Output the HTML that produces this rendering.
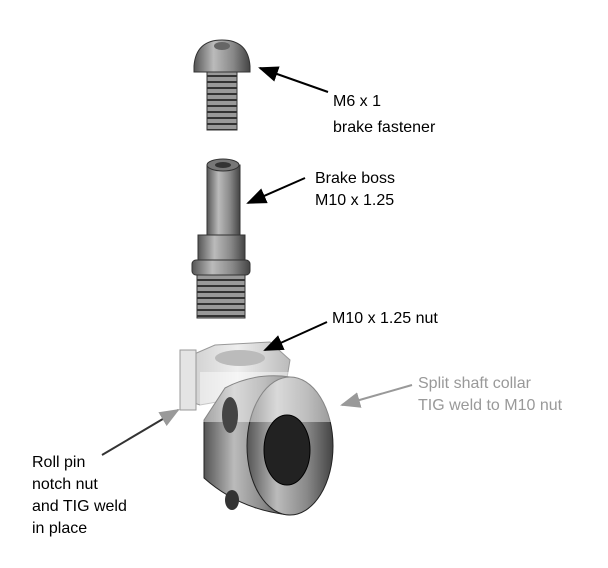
<!DOCTYPE html><html><head><style>body{margin:0;background:#fff}svg{display:block}text{font-family:"Liberation Sans",Arial,sans-serif;font-size:16px}</style></head><body>
<svg width="608" height="568" viewBox="0 0 608 568">
<defs>
<linearGradient id="g" x1="0" x2="1"><stop offset="0" stop-color="#555"/><stop offset=".35" stop-color="#bbb"/><stop offset=".7" stop-color="#888"/><stop offset="1" stop-color="#444"/></linearGradient>
<linearGradient id="gl" x1="0" x2="1"><stop offset="0" stop-color="#ccc"/><stop offset=".5" stop-color="#eee"/><stop offset="1" stop-color="#bbb"/></linearGradient>
<pattern id="th" width="10" height="6" patternUnits="userSpaceOnUse"><rect width="10" height="6" fill="#999"/><rect y="3" width="10" height="2" fill="#333"/></pattern>
<marker id="a" markerWidth="10" markerHeight="8" refX="9" refY="4" orient="auto"><path d="M0,0L10,4L0,8z" fill="#000"/></marker>
<marker id="ag" markerWidth="10" markerHeight="8" refX="9" refY="4" orient="auto"><path d="M0,0L10,4L0,8z" fill="#999"/></marker>
</defs>
<rect x="207" y="72" width="30" height="58" fill="url(#th)" stroke="#333"/>
<path d="M194,66 Q196,40 222,40 Q248,40 250,66 L250,72 L194,72Z" fill="url(#g)" stroke="#333"/>
<ellipse cx="222" cy="46" rx="8" ry="4" fill="#666"/>
<rect x="207" y="165" width="33" height="75" fill="url(#g)" stroke="#333"/>
<ellipse cx="223" cy="165" rx="16" ry="6" fill="#777" stroke="#333"/>
<ellipse cx="223" cy="165" rx="8" ry="3" fill="#333"/>
<rect x="198" y="235" width="47" height="28" fill="url(#g)" stroke="#333"/>
<rect x="192" y="260" width="58" height="15" rx="4" fill="url(#g)" stroke="#333"/>
<rect x="197" y="275" width="48" height="43" fill="url(#th)" stroke="#333"/>
<path d="M185,358 L215,345 L270,342 L290,360 L285,390 L200,405 L185,400Z" fill="url(#gl)" stroke="#999"/>
<rect x="180" y="350" width="16" height="60" fill="#e4e4e4" stroke="#999"/>
<ellipse cx="240" cy="358" rx="25" ry="8" fill="#bbb"/>
<path d="M225,388 Q255,372 290,377 L290,515 Q240,510 204,478 L204,420 Z" fill="url(#g)" stroke="#222"/>
<ellipse cx="290" cy="446" rx="43" ry="69" fill="url(#g)" stroke="#222"/>
<rect x="200" y="372" width="135" height="50" fill="#fff" opacity=".45"/>
<ellipse cx="287" cy="450" rx="23" ry="35" fill="#222" stroke="#000"/>
<ellipse cx="230" cy="415" rx="8" ry="18" fill="#444"/>
<ellipse cx="232" cy="500" rx="7" ry="10" fill="#333"/>
<line x1="328" y1="92" x2="260" y2="68" stroke="#000" stroke-width="2" marker-end="url(#a)"/>
<text x="333" y="106">M6 x 1</text><text x="333" y="132">brake fastener</text>
<line x1="305" y1="178" x2="248" y2="203" stroke="#000" stroke-width="2" marker-end="url(#a)"/>
<text x="315" y="183">Brake boss</text><text x="315" y="205">M10 x 1.25</text>
<line x1="327" y1="322" x2="265" y2="350" stroke="#000" stroke-width="2" marker-end="url(#a)"/>
<text x="332" y="323">M10 x 1.25 nut</text>
<line x1="412" y1="385" x2="342" y2="405" stroke="#999" stroke-width="2" marker-end="url(#ag)"/>
<text x="418" y="388" fill="#999">Split shaft collar</text><text x="418" y="410" fill="#999">TIG weld to M10 nut</text>
<line x1="102" y1="455" x2="178" y2="410" stroke="#333" stroke-width="2" marker-end="url(#ag)"/>
<text x="32" y="467">Roll pin</text><text x="32" y="489">notch nut</text><text x="32" y="511">and TIG weld</text><text x="32" y="533">in place</text>
</svg></body></html>
